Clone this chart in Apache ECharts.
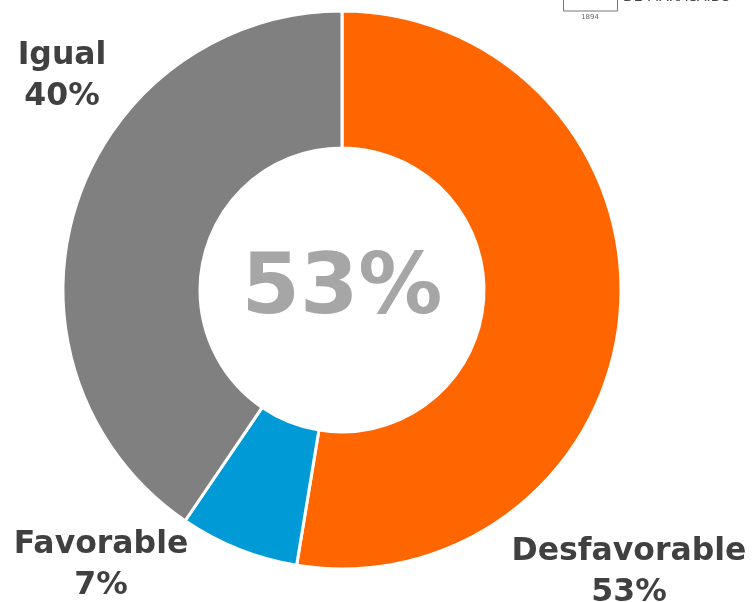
<!DOCTYPE html>
<html><head><meta charset="utf-8">
<script src="https://cdn.jsdelivr.net/npm/echarts@6/dist/echarts.min.js"></script>
<style>html,body{margin:0;padding:0;background:#fff}#c{width:753px;height:602px}</style>
</head><body><div id="c"></div>
<script>
const categories = ['Desfavorable', 'Favorable', 'Igual'];
const values = [52.6, 6.9, 40.5];
const pctLabels = ['53%', '7%', '40%'];
const centerLabel = '53%';
const colors = ['#FF6600', '#009BD6', '#808080'];
const labelPos = [[629, 572], [101, 565], [62, 76]];
const chart = echarts.init(document.getElementById('c'));
const labelFont = { fontFamily: 'DejaVu Sans', fontWeight: 'bold', fontSize: 31.5, lineHeight: 41, fill: '#404040', align: 'center', verticalAlign: 'middle' };
chart.setOption({
  animation: false,
  series: [{
    type: 'pie',
    center: [342, 290],
    radius: [142, 279],
    startAngle: 90,
    clockwise: true,
    data: categories.map((c, i) => ({ name: c, value: values[i], itemStyle: { color: colors[i] } })),
    itemStyle: { borderColor: '#fff', borderWidth: 3 },
    label: { show: false },
    labelLine: { show: false },
    emphasis: { disabled: true }
  }],
  graphic: [
    { type: 'text', style: { text: centerLabel, x: 342, y: 291, fontFamily: 'DejaVu Sans', fontWeight: 'bold', fontSize: 84, fill: '#A6A6A6', align: 'center', verticalAlign: 'middle' } },
    ...categories.map((c, i) => ({ type: 'text', style: Object.assign({ text: c + '\n' + pctLabels[i], x: labelPos[i][0], y: labelPos[i][1] }, labelFont) })),
    { type: 'rect', shape: { x: 563.5, y: -20, width: 54, height: 31 }, style: { fill: 'none', stroke: '#777', lineWidth: 1 } },
    { type: 'text', style: { text: '1894', x: 590, y: 17, fontFamily: 'DejaVu Sans', fontSize: 7, fill: '#666', align: 'center', verticalAlign: 'middle' } },
    { type: 'text', style: { text: 'DE MARACAIBO', x: 623, y: 4, fontFamily: 'DejaVu Sans', fontSize: 14, fill: '#444', align: 'left', verticalAlign: 'bottom' } }
  ]
});
</script></body></html>
